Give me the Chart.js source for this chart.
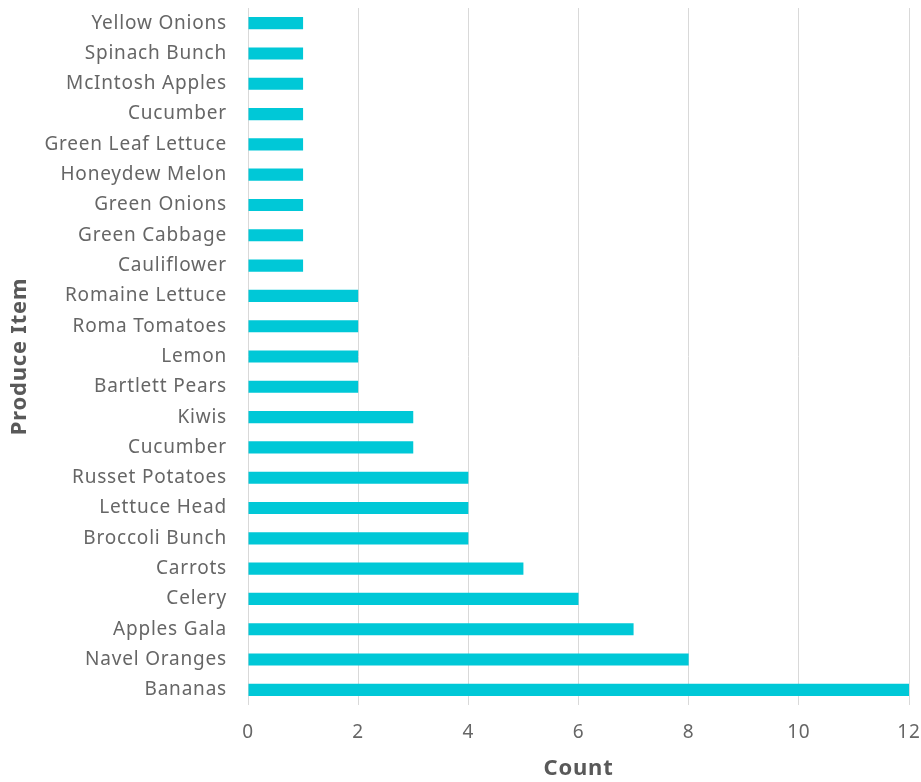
<!DOCTYPE html>
<html>
<head>
<meta charset="utf-8">
<script src="https://cdn.jsdelivr.net/npm/chart.js@4.4.1/dist/chart.umd.min.js"></script>
<style>
  html, body { margin: 0; padding: 0; background: #ffffff; }
  #wrap { width: 921px; height: 782px; position: relative; }
</style>
</head>
<body>
<div id="wrap"><canvas id="chart"></canvas></div>
<script>
// produce items, top to bottom as in the picture
const items = [
  'Yellow Onions', 'Spinach Bunch', 'McIntosh Apples', 'Cucumber',
  'Green Leaf Lettuce', 'Honeydew Melon', 'Green Onions', 'Green Cabbage',
  'Cauliflower', 'Romaine Lettuce', 'Roma Tomatoes', 'Lemon',
  'Bartlett Pears', 'Kiwis', 'Cucumber', 'Russet Potatoes',
  'Lettuce Head', 'Broccoli Bunch', 'Carrots', 'Celery',
  'Apples Gala', 'Navel Oranges', 'Bananas'
];
const counts = [1, 1, 1, 1, 1, 1, 1, 1, 1, 2, 2, 2, 2, 3, 3, 4, 4, 4, 5, 6, 7, 8, 12];
const countTicks = [0, 2, 4, 6, 8, 10, 12];

const textGray = '#595959';
const tickGray = '#666666';
const fontName = "'Noto Sans', 'Open Sans', sans-serif";

// the original font is a bit wider, so loosen the letters a little
const spacing = {
    id: 'spacing',
    beforeDraw: (chart) => { chart.ctx.letterSpacing = '0.8px'; }
};

document.addEventListener('DOMContentLoaded', () => {
    const ctx = document.getElementById('chart');

    new Chart(ctx, {
        type: 'bar',
        data: {
            labels: items,
            datasets: [{
                label: 'Count',
                data: counts,
                backgroundColor: '#00c8d7',
                borderWidth: 0,
                barPercentage: 0.8,
                categoryPercentage: 0.5
            }]
        },
        options: {
            indexAxis: 'y',
            responsive: true,
            maintainAspectRatio: false,
            animation: false,
            layout: { padding: { top: 8, right: 12, left: 0, bottom: 0 } },
            plugins: {
                legend: { display: false },
                tooltip: { enabled: false }
            },
            scales: {
                x: {
                    min: 0,
                    max: 12,
                    afterBuildTicks: (axis) => {
                        axis.ticks = countTicks.map(v => ({ value: v }));
                    },
                    afterFit: (axis) => {
                        axis.height = 77;
                        axis.paddingLeft = 0;
                        axis.paddingRight = 0;
                    },
                    grid: { color: '#d9d9d9', lineWidth: 1, drawTicks: false },
                    border: { display: false },
                    ticks: {
                        color: tickGray,
                        padding: 16,
                        font: { family: fontName, size: 19 }
                    },
                    title: {
                        display: true,
                        text: 'Count',
                        color: textGray,
                        padding: { top: 0, bottom: 0 },
                        font: { family: fontName, size: 22, weight: 'bold' }
                    }
                },
                y: {
                    afterFit: (axis) => {
                        axis.width = 248;
                        axis.paddingTop = 0;
                        axis.paddingBottom = 0;
                    },
                    grid: { display: false, drawTicks: false },
                    border: { display: false },
                    ticks: {
                        color: tickGray,
                        padding: 21,
                        autoSkip: false,
                        font: { family: fontName, size: 19 }
                    },
                    title: {
                        display: true,
                        text: 'Produce Item',
                        color: textGray,
                        padding: { top: 7, bottom: 0 },
                        font: { family: fontName, size: 22, weight: 'bold' }
                    }
                }
            }
        },
        plugins: [spacing]
    });
});
</script>
</body>
</html>
